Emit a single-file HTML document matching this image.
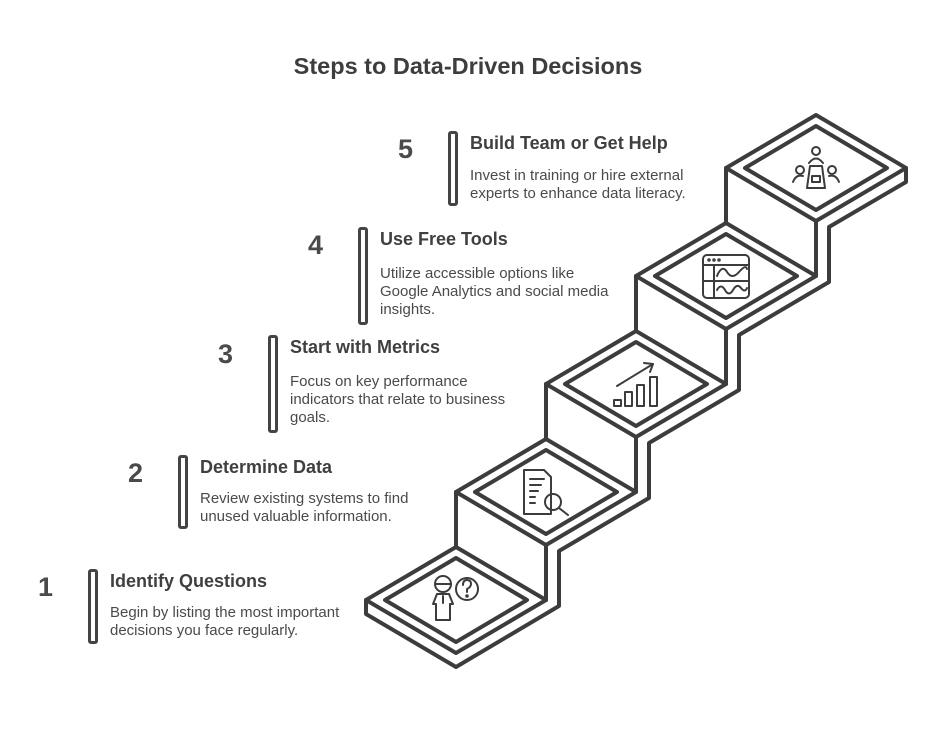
<!DOCTYPE html>
<html><head><meta charset="utf-8"><style>
html,body{margin:0;padding:0;background:#fff;}
body{width:936px;height:750px;position:relative;overflow:hidden;font-family:"Liberation Sans",Arial,sans-serif;color:#444;}
.t{position:absolute;white-space:nowrap;}
.title{left:0;width:936px;top:53px;text-align:center;font-size:23.5px;font-weight:bold;color:#3d3d3d;}
.num{font-size:27px;font-weight:bold;color:#4a4a4a;}
.h{font-size:18px;font-weight:bold;color:#404040;}
.b{font-size:15px;line-height:18px;color:#4a4a4a;}
.bar{position:absolute;width:4px;border:3px solid #444;border-radius:3px;}
</style></head><body>
<div class="t title">Steps to Data-Driven Decisions</div>

<div class="t num" style="left:38px;top:572px">1</div>
<div class="bar" style="left:88px;top:569px;height:69px"></div>
<div class="t h" style="left:110px;top:571px">Identify Questions</div>
<div class="t b" style="left:110px;top:604px">Begin by listing the most important<br>decisions you face regularly.</div>

<div class="t num" style="left:128px;top:458px">2</div>
<div class="bar" style="left:178px;top:455px;height:68px"></div>
<div class="t h" style="left:200px;top:457px">Determine Data</div>
<div class="t b" style="left:200px;top:490px">Review existing systems to find<br>unused valuable information.</div>

<div class="t num" style="left:218px;top:339px">3</div>
<div class="bar" style="left:268px;top:335px;height:92px"></div>
<div class="t h" style="left:290px;top:337px">Start with Metrics</div>
<div class="t b" style="left:290px;top:373px">Focus on key performance<br>indicators that relate to business<br>goals.</div>

<div class="t num" style="left:308px;top:230px">4</div>
<div class="bar" style="left:358px;top:227px;height:92px"></div>
<div class="t h" style="left:380px;top:229px">Use Free Tools</div>
<div class="t b" style="left:380px;top:265px">Utilize accessible options like<br>Google Analytics and social media<br>insights.</div>

<div class="t num" style="left:398px;top:134px">5</div>
<div class="bar" style="left:448px;top:131px;height:69px"></div>
<div class="t h" style="left:470px;top:133px">Build Team or Get Help</div>
<div class="t b" style="left:470px;top:167px">Invest in training or hire external<br>experts to enhance data literacy.</div>

<svg width="936" height="750" style="position:absolute;left:0;top:0" fill="none" stroke="#3c3c3c" stroke-width="4" stroke-linejoin="round" stroke-linecap="round">
<polyline points="366,600 366,614 456,667 559,606 559,551 649,498 649,443 739,390 739,335 829,282 829,227 906,182 906,168"/>
<line x1="456" y1="492" x2="456" y2="547"/><line x1="546" y1="545" x2="546" y2="600"/>
<line x1="546" y1="384" x2="546" y2="439"/><line x1="636" y1="437" x2="636" y2="492"/>
<line x1="636" y1="276" x2="636" y2="331"/><line x1="726" y1="329" x2="726" y2="384"/>
<line x1="726" y1="168" x2="726" y2="223"/><line x1="816" y1="221" x2="816" y2="276"/>
<g id="d">
<polygon points="366,600 456,547 546,600 456,653"/>
<polygon points="385,600 456,558 527,600 456,642"/>
</g>
<use href="#d" transform="translate(90,-108)"/>
<use href="#d" transform="translate(180,-216)"/>
<use href="#d" transform="translate(270,-324)"/>
<use href="#d" transform="translate(360,-432)"/>
<g stroke-width="2">
<circle cx="443" cy="584" r="8"/><line x1="435" y1="584" x2="451" y2="584"/>
<path d="M437,594 h12 l4,10 h-3 v16 h-14 v-16 h-3 z"/><line x1="443" y1="596" x2="443" y2="603"/>
<circle cx="467" cy="589" r="11"/>
<path d="M463,585 q0,-5 4,-5 q4,0 4,4 q0,3 -4,5 v3"/><circle cx="467" cy="596" r="0.8" fill="#3c3c3c"/>
<path d="M524,470 h20 l7,7 v37 h-27 z"/>
<line x1="530" y1="479" x2="544" y2="479"/><line x1="530" y1="485" x2="541" y2="485"/><line x1="530" y1="491" x2="538" y2="491"/><line x1="530" y1="497" x2="535" y2="497"/><line x1="530" y1="503" x2="535" y2="503"/>
<circle cx="553" cy="502" r="8"/><line x1="559" y1="508" x2="568" y2="515"/>
<rect x="614" y="400" width="7" height="6"/><rect x="625" y="392" width="7" height="14"/><rect x="637" y="385" width="7" height="21"/><rect x="650" y="377" width="7" height="29"/>
<line x1="617" y1="386" x2="653" y2="364"/><polyline points="644,363 653,364 650,372"/>
<rect x="703" y="255" width="46" height="43" rx="4"/><line x1="703" y1="265" x2="749" y2="265"/><line x1="714" y1="265" x2="714" y2="298"/><line x1="703" y1="281" x2="749" y2="281"/>
<path d="M717,276 q5,-12 10,-4 t12,0 t8,-3"/><path d="M717,290 q4,-7 8,0 t8,0 t8,-2 t6,0"/>
<circle cx="709" cy="260" r="0.8"/><circle cx="714" cy="260" r="0.8"/><circle cx="719" cy="260" r="0.8"/>
<circle cx="816" cy="151" r="4"/><path d="M809,163 q7,-9 14,0"/>
<path d="M810,166 h12 l3,22 h-18 z"/><rect x="812" y="176" width="8" height="6"/>
<circle cx="800" cy="170" r="4"/><path d="M793,182 q3,-8 10,-6"/>
<circle cx="832" cy="170" r="4"/><path d="M839,182 q-3,-8 -10,-6"/>
</g>
</svg>
</body></html>
